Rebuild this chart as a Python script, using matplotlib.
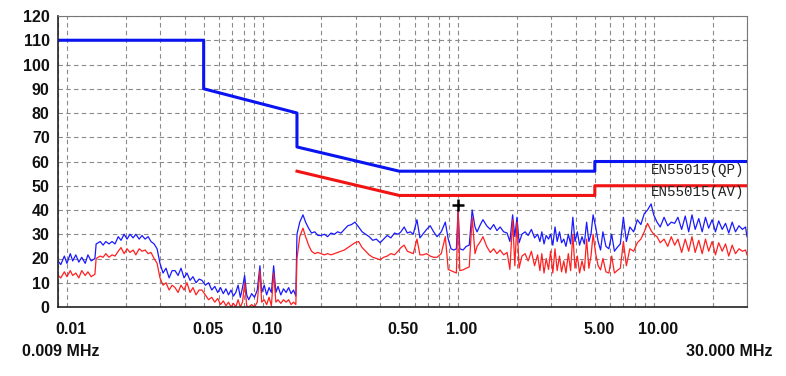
import matplotlib
matplotlib.use("Agg")
import matplotlib.pyplot as plt
from matplotlib.ticker import FixedLocator, LogLocator, NullFormatter
from matplotlib.transforms import ScaledTranslation

# Límites EN55015 (MHz, dBuV)
qp_freq = [0.009, 0.05, 0.05, 0.15, 0.15, 0.5, 5.0, 5.0, 30.0]
qp_level = [110, 110, 90, 80, 66, 56, 56, 60, 60]
av_freq = [0.15, 0.5, 5.0, 5.0, 30.0]
av_level = [56, 46, 46, 50, 50]

# Barrido medido: frecuencia, traza azul (pico) y traza roja (promedio)
freq_mhz = [
    0.0090, 0.0093, 0.0097, 0.0100, 0.0104, 0.0107, 0.0111, 0.0115, 0.0119, 0.0124, 0.0128, 0.0133, 0.0139,
    0.0141, 0.0148, 0.0153, 0.0158, 0.0164, 0.0170, 0.0176, 0.0183, 0.0189, 0.0196, 0.0203, 0.0210, 0.0218, 0.0225,
    0.0234, 0.0242, 0.0251, 0.0260, 0.0269, 0.0279, 0.0289, 0.0299, 0.0310, 0.0321, 0.0333, 0.0345, 0.0357, 0.0370,
    0.0383, 0.0397, 0.0411, 0.0426, 0.0441, 0.0457, 0.0474,
    0.049, 0.051, 0.053, 0.055, 0.057, 0.059, 0.061, 0.063, 0.065, 0.067,
    0.069, 0.071, 0.073, 0.075, 0.077, 0.079, 0.081, 0.083, 0.085, 0.088,
    0.091, 0.094, 0.097, 0.099, 0.102, 0.105, 0.108, 0.111, 0.114, 0.117,
    0.120, 0.124, 0.128, 0.132, 0.136, 0.140, 0.144, 0.148,
    0.150, 0.155, 0.161, 0.166, 0.172, 0.178, 0.185, 0.192, 0.199, 0.207,
    0.215, 0.224, 0.233, 0.242, 0.252, 0.262, 0.273, 0.285, 0.297, 0.310,
    0.323, 0.337, 0.351, 0.366, 0.382, 0.399, 0.416, 0.434, 0.453, 0.473, 0.493,
    0.510, 0.530, 0.550, 0.570, 0.590, 0.616, 0.638, 0.660, 0.690, 0.720,
    0.750, 0.780, 0.820, 0.860, 0.890, 0.920, 0.950, 0.980, 1.000, 1.020,
    1.060, 1.100, 1.140, 1.180, 1.220,
    1.25, 1.30, 1.34, 1.40, 1.46, 1.52, 1.58, 1.64, 1.71, 1.78,
    1.84, 1.90, 1.95, 2.00, 2.05, 2.12, 2.20, 2.28, 2.37, 2.46,
    2.55, 2.62, 2.68, 2.75, 2.82, 2.90, 2.97, 3.05, 3.13, 3.21,
    3.30, 3.38, 3.47, 3.56, 3.66, 3.76, 3.86, 3.96, 4.07, 4.18,
    4.30, 4.42, 4.54, 4.66, 4.78, 4.90,
    5.05, 5.20, 5.35, 5.50, 5.70, 5.90, 6.10, 6.30, 6.50, 6.75,
    7.00, 7.25, 7.55, 7.90, 8.25, 8.60, 8.95, 9.30, 9.70, 10.0,
    10.4, 10.8, 11.3, 11.8, 12.3, 12.8, 13.3, 13.9, 14.5, 15.1,
    15.7, 16.3, 17.0, 17.7, 18.4, 19.1, 19.9, 20.7, 21.5, 22.4,
    23.3, 24.2, 25.2, 26.2, 27.3, 28.4, 29.5, 30.0,
]
peak_db = [
    19, 17.5, 21, 18, 22, 19, 21.5, 18.5, 20.5, 18, 21.5, 19, 20,
    26, 27, 25.5, 27, 26, 27, 26, 29, 27.5, 30, 28, 30, 28.5, 30,
    28, 29.5, 28, 29, 27, 26, 24, 18, 14, 16, 12, 15, 15, 13,
    16, 12, 14, 11, 12.5, 10, 11.5,
    11, 9, 10, 7, 8.5, 6, 8, 5.5, 7.5, 5,
    7, 4.5, 6, 9, 4, 8, 13, 5, 3, 5.5,
    4, 7, 17, 6, 9, 5, 8, 6, 17, 6,
    8.5, 5, 7.5, 6, 8, 5.5, 7, 4.5,
    30, 35, 38, 35, 32.5, 30.5, 31, 29.5, 29.5, 30,
    29, 30.5, 30, 31, 30.5, 32, 33.5, 34, 35, 33,
    31, 30, 29, 27.5, 28, 26.5, 28, 29.5, 28.5, 30.5, 30,
    31, 33, 30.5, 31, 30, 36, 28.5, 30, 32, 33.5,
    31, 29, 31, 35, 28, 24, 23.5, 24, 40, 24,
    23.5, 25, 25.5, 40, 33,
    31, 34, 36, 33.5, 32, 34, 31.5, 33, 31, 30.5,
    27, 38, 29, 37, 26.5, 30, 31, 29.5, 32, 28.5,
    30, 27, 31, 26, 29.5, 28, 30, 25.5, 33, 27,
    31, 26.5, 28, 25, 30, 26, 37, 27, 31, 25.5,
    29, 26, 35, 27, 30, 38,
    33, 27, 23.5, 31, 25, 24, 30, 23, 24.5, 26,
    37, 27, 33, 31, 36, 34, 38.5, 40, 42.5, 38,
    35, 33, 37, 33.5, 35, 34.5, 37, 32, 37.5, 31,
    38, 32, 36.5, 31, 37, 32.5, 36, 31, 35.5, 32,
    34.5, 30.5, 35, 31, 33.5, 32, 33, 29,
]
avg_db = [
    13, 12, 14.5, 12.5, 15, 13, 14, 12, 15, 13, 14.5, 12.5, 13.5,
    20, 21, 20.5, 22, 20.5, 21.5, 21, 23, 24.5, 22, 24, 22.5, 23.5, 21.5,
    24, 23, 23.5, 22, 22.5, 20, 18, 12, 9, 10, 7, 9, 8, 6,
    9, 7, 10, 6, 8, 5, 7,
    7, 5, 3, 4, 2, 3.5, 1, 2.5, 0.5, 2,
    0, 1.5, 0, 3, 0, 2, 10, 0.5, 0, 1,
    0, 2, 15, 2, 3, 1, 4, 0.5, 14, 2,
    3, 1.5, 3, 2, 3, 1, 2, 1,
    20, 29, 32.5, 29, 25.5, 23, 22, 22.5, 22, 21.5,
    22, 21.5, 22, 22.5, 23, 23.5, 24.5, 25.5, 26.5, 27,
    24.5, 23, 21.5, 20.5, 20, 19.5, 20.5, 21, 22, 21.5, 23,
    24.5, 25.5, 23, 22.5, 22, 28, 21.5, 21.5, 22, 21,
    20.5, 20.5, 22, 29, 15.5, 15, 14.5, 14, 40, 15,
    15.3, 16, 16.5, 37, 22,
    25, 27, 29, 25, 22.5, 24, 22, 23.5, 21.5, 22.5,
    15.5, 36, 17, 35, 16, 21, 22, 19, 23, 17,
    21.5, 15, 22, 14, 20, 15.5, 23, 14, 24, 15,
    21, 14.5, 19, 14, 22, 15, 30, 16, 21, 14,
    19, 15, 28, 16, 21, 30,
    22, 17, 15.3, 20, 14.5, 14, 21, 14, 15, 16,
    27, 17, 24, 23, 26.5, 28, 31, 34.5, 31.5, 30,
    29, 26.5, 28, 25, 29, 25.5, 28, 22.5, 28, 23,
    29, 22.5, 27.5, 22, 28, 23, 27, 21.5, 26.5, 23,
    26, 21, 25.5, 22, 24, 23, 23.5, 21.5,
]

x_ticks = [0.01, 0.05, 0.1, 0.5, 1.0, 5.0, 10.0]
x_tick_labels = ["0.01", "0.05", "0.10", "0.50", "1.00", "5.00", "10.00"]
y_ticks = list(range(0, 121, 10))

marker_freq = 1.0
marker_level = 42

# Figura
fig = plt.figure(figsize=(7.86, 3.76), dpi=100)
ax = fig.add_axes([58 / 786, 1 - 307 / 376, 689 / 786, 291 / 376])

# Trazas medidas
ax.plot(freq_mhz, peak_db, color="#1a1aff", lw=0.9)
ax.plot(freq_mhz, avg_db, color="#ff2020", lw=0.9)

# Líneas límite
ax.plot(qp_freq, qp_level, color="#0a14f0", lw=2.2)
ax.plot(av_freq, av_level, color="#f01414", lw=2.2)

ax.plot(marker_freq, marker_level, marker="+", color="black", ms=9, mew=1.8)

ax.text(29.0, 56.3, "EN55015(QP)", ha="right", va="center", fontsize=10.2,
        family="Liberation Mono", color="#222222")
ax.text(29.0, 47.3, "EN55015(AV)", ha="right", va="center", fontsize=10.2,
        family="Liberation Mono", color="#222222")

# Ejes
ax.set_xscale("log")
ax.set_xlim(0.009, 30)
ax.set_ylim(0, 120)
ax.xaxis.set_major_locator(FixedLocator(x_ticks))
ax.set_xticklabels(x_tick_labels)
ax.xaxis.set_minor_locator(LogLocator(base=10, subs=range(1, 10)))
ax.xaxis.set_minor_formatter(NullFormatter())
ax.set_yticks(y_ticks)

ax.tick_params(axis="both", which="both", length=0)
ax.tick_params(axis="x", pad=11)
ax.tick_params(axis="y", pad=6)
for lab in ax.get_xticklabels() + ax.get_yticklabels():
    lab.set_fontfamily("Liberation Sans")
    lab.set_fontweight("bold")
    lab.set_fontsize(11.5)
    lab.set_color("#111111")
for lab in ax.get_xticklabels():
    lab.set_transform(lab.get_transform() + ScaledTranslation(4 / 100, 0, fig.dpi_scale_trans))

ax.grid(True, which="both", axis="x", color="#8a8a8a", lw=0.8, linestyle=(0, (4, 3)))
ax.grid(True, which="major", axis="y", color="#8a8a8a", lw=0.8, linestyle=(0, (4, 3)))
ax.set_axisbelow(True)

for side in ["top", "right"]:
    ax.spines[side].set_color("#777777")
for side in ["left", "bottom"]:
    ax.spines[side].set_color("#222222")
    ax.spines[side].set_linewidth(1.2)

fig.text(22 / 786, 1 - 352 / 376, "0.009 MHz", ha="left", va="center",
         fontsize=11.5, fontweight="bold", family="Liberation Sans", color="#111111")
fig.text(773 / 786, 1 - 352 / 376, "30.000 MHz", ha="right", va="center",
         fontsize=11.5, fontweight="bold", family="Liberation Sans", color="#111111")

fig.savefig("out.png", dpi=100)
